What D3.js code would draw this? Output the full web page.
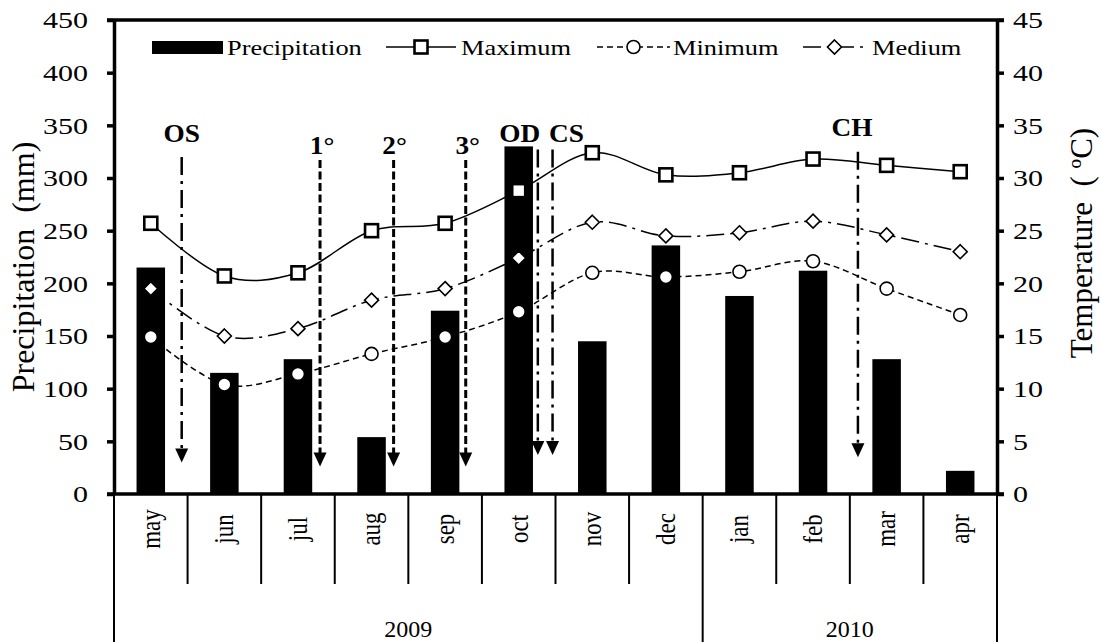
<!DOCTYPE html>
<html><head><meta charset="utf-8">
<script src="https://cdn.jsdelivr.net/npm/d3@7"></script>
<style>
html,body{margin:0;padding:0;background:#fff;}
svg text{font-family:"Liberation Serif","Times New Roman",serif;fill:#000;white-space:pre;}
</style></head>
<body>
<svg id="chart" width="1101" height="642"></svg>
<script>
// ---------- data ----------
const months = ["may","jun","jul","aug","sep","oct","nov","dec","jan","feb","mar","apr"];
const years = ["2009","2010"];
const yearStart = [0, 8];   // first month index of each year
const yearEnd = [7, 11];    // last month index of each year
const precipitation = [215,115,128,54,174,330,145,236,188,212,128,22];
const tempMax = [25.7,20.7,21.0,25.0,25.7,28.8,32.4,30.3,30.5,31.8,31.2,30.6];
const tempMin = [14.9,10.4,11.4,13.3,14.9,17.3,21.0,20.6,21.1,22.1,19.5,17.0];
const tempMed = [19.5,15.0,15.7,18.4,19.5,22.4,25.8,24.5,24.8,25.9,24.6,23.0];
const precipTicks = [0,50,100,150,200,250,300,350,400,450];
const tempTicks = [0,5,10,15,20,25,30,35,40,45];
// event arrows: label, month position (fractional index), top (mm), tip (mm), style
const eventLabels = ["OS","1°","2°","3°","OD","CS","CH"];
const eventPos = [0.42,2.30,3.30,4.28,5.26,5.46,9.61];
const eventTop = [320,317,317,317,327,327,325];
const eventTip = [30,26,26,26,37,37,35];
const eventStyle = ["dashdot","dash","dash","dash","dashdot","dashdot","dashdot"];

// ---------- layout ----------
const W = 1101, H = 642;
const X0 = 114, X1 = 997, YT = 20, YB = 494;
const SX = 1.2; // horizontal text stretch of the reference
const svg = d3.select("#chart");

const xBand = d3.scaleBand().domain(months).range([X0, X1]).padding(0);
const bw = xBand.bandwidth();
const xIdx = d3.scaleLinear().domain([-0.5, months.length - 0.5]).range([X0, X1]);
const yP = d3.scaleLinear().domain([0, 450]).range([YB, YT]);
const yT = d3.scaleLinear().domain([0, 45]).range([YB, YT]);
const cx = (d, i) => xBand(months[i]) + bw / 2;

function txt(g, x, y, s, opts) {
  opts = opts || {};
  const sx = opts.sx === undefined ? SX : opts.sx;
  const t = g.append("text")
    .attr("transform", `translate(${x},${y}) scale(${sx},1)` + (opts.rot ? ` rotate(${opts.rot})` : ""))
    .attr("text-anchor", opts.anchor || "middle")
    .attr("font-size", opts.size || 22)
    .attr("font-weight", opts.bold ? "bold" : "normal")
    .text(s);
  if (opts.dy) t.attr("dy", opts.dy);
  return t;
}

// bars
const barW = 28.5;
svg.append("g").selectAll("rect").data(precipitation).join("rect")
  .attr("x", (d, i) => cx(d, i) - barW / 2)
  .attr("y", d => yP(d))
  .attr("width", barW)
  .attr("height", d => yP(0) - yP(d))
  .attr("fill", "#000");

// event arrows
const arrowG = svg.append("g");
eventLabels.forEach((lab, i) => {
  const x = xIdx(eventPos[i]);
  const yTop = yP(eventTop[i]), yTip = yP(eventTip[i]);
  const dash = eventStyle[i] === "dash";
  const headH = 14, headW = 13;
  arrowG.append("line")
    .attr("x1", x).attr("x2", x).attr("y1", yTop).attr("y2", yTip - headH + 1)
    .attr("stroke", "#000")
    .attr("stroke-width", dash ? 3 : 2.5)
    .attr("stroke-dasharray", dash ? "8,3.5" : "18,6,3,6");
  arrowG.append("path")
    .attr("d", `M${x - headW / 2},${yTip - headH}L${x + headW / 2},${yTip - headH}L${x},${yTip}Z`)
    .attr("fill", "#000");
});
// event labels
const labY = [142,154,154,154,142,142,136];
const labDx = [0,2,1,2,-18,14,-6];
eventLabels.forEach((lab, i) => {
  txt(svg, xIdx(eventPos[i]) + labDx[i], labY[i], lab, {size: 26, bold: true, sx: 1.05});
});

// temperature lines
const curve = d3.curveCatmullRom.alpha(0);
const lineGen = d3.line().x((d, i) => cx(d, i)).y(d => yT(d)).curve(curve);
const seriesDefs = [
  {data: tempMax, dash: null, w: 1.5, marker: "square"},
  {data: tempMed, dash: "18,6,3,6", w: 1.5, marker: "diamond"},
  {data: tempMin, dash: "6,4", w: 1.5, marker: "circle"}
];
seriesDefs.forEach(s => {
  svg.append("path").attr("d", lineGen(s.data))
    .attr("fill", "none").attr("stroke", "#000").attr("stroke-width", s.w)
    .attr("stroke-dasharray", s.dash);
});
function marker(g, type, x, y) {
  if (type === "square") {
    g.append("rect").attr("x", x - 6.5).attr("y", y - 6.5).attr("width", 13).attr("height", 13)
      .attr("fill", "#fff").attr("stroke", "#000").attr("stroke-width", 2.6);
  } else if (type === "circle") {
    g.append("circle").attr("cx", x).attr("cy", y).attr("r", 6.5)
      .attr("fill", "#fff").attr("stroke", "#000").attr("stroke-width", 1.6);
  } else {
    g.append("path").attr("d", `M${x},${y - 7}L${x + 7},${y}L${x},${y + 7}L${x - 7},${y}Z`)
      .attr("fill", "#fff").attr("stroke", "#000").attr("stroke-width", 1.6);
  }
}
seriesDefs.forEach(s => {
  const g = svg.append("g");
  s.data.forEach((d, i) => marker(g, s.marker, cx(d, i), yT(d)));
});

// axes
const axL = svg.append("g").attr("transform", `translate(${X0},0)`)
  .call(d3.axisLeft(yP).tickValues(precipTicks).tickSize(7).tickSizeOuter(0).tickFormat(d3.format("d")));
const axR = svg.append("g").attr("transform", `translate(${X1},0)`)
  .call(d3.axisRight(yT).tickValues(tempTicks).tickSize(7).tickSizeOuter(0).tickFormat(d3.format("d")));
[axL, axR].forEach(a => {
  a.select(".domain").attr("stroke-width", 3.5);
  a.selectAll(".tick line").attr("stroke-width", 3.5);
  a.selectAll(".tick text").remove();
});
precipTicks.forEach(v => txt(svg, X0 - 26, yP(v), String(v), {anchor: "end", size: 24, sx: 1.25, dy: "0.35em"}));
tempTicks.forEach(v => txt(svg, X1 + 16, yT(v), String(v), {anchor: "start", size: 24, sx: 1.25, dy: "0.35em"}));
// top border and bottom axis
svg.append("line").attr("x1", X0 - 7).attr("x2", X1 + 7).attr("y1", YT).attr("y2", YT)
  .attr("stroke", "#000").attr("stroke-width", 3.5);
svg.append("line").attr("x1", X0 - 7).attr("x2", X1 + 7).attr("y1", YB).attr("y2", YB)
  .attr("stroke", "#000").attr("stroke-width", 3.5);

// category separators
const sepG = svg.append("g");
d3.range(months.length + 1).forEach(i => {
  const x = i < months.length ? xBand(months[i]) : X1;
  const isYear = yearStart.includes(i) || i === months.length;
  sepG.append("line").attr("x1", x).attr("x2", x).attr("y1", YB).attr("y2", isYear ? H : 584)
    .attr("stroke", "#000").attr("stroke-width", 2);
});
months.forEach((m, i) => txt(svg, cx(null, i), 529, m, {rot: -90, size: 23, dy: "0.32em", sx: 1.2}));
years.forEach((y, k) => {
  const xm = (xBand(months[yearStart[k]]) + xBand(months[yearEnd[k]]) + bw) / 2;
  txt(svg, xm, 637, y, {size: 24, sx: 1.0});
});

// axis titles
txt(svg, 24, 267, "Precipitation  (mm)", {rot: -90, size: 32, sx: 1.0, dy: "0.32em"});
txt(svg, 1082, 243, "Temperature  ( ºC)", {rot: -90, size: 31, sx: 1.0, dy: "0.32em"});

// legend
const lg = svg.append("g");
lg.append("rect").attr("x", 152).attr("y", 41).attr("width", 71).attr("height", 13).attr("fill", "#000");
txt(lg, 227, 55, "Precipitation", {anchor: "start", size: 22});
const legItems = [
  {x1: 386, x2: 456, tx: 461, label: "Maximum", dash: null, marker: "square"},
  {x1: 597, x2: 670, tx: 673, label: "Minimum", dash: "6,4", marker: "circle"},
  {x1: 803, x2: 866, tx: 872, label: "Medium", dash: "18,6,3,6", marker: "diamond"}
];
legItems.forEach(it => {
  lg.append("line").attr("x1", it.x1).attr("x2", it.x2).attr("y1", 47).attr("y2", 47)
    .attr("stroke", "#000").attr("stroke-width", 1.5).attr("stroke-dasharray", it.dash);
  marker(lg, it.marker, (it.x1 + it.x2) / 2, 47);
  txt(lg, it.tx, 55, it.label, {anchor: "start", size: 22});
});
</script>
</body></html>
